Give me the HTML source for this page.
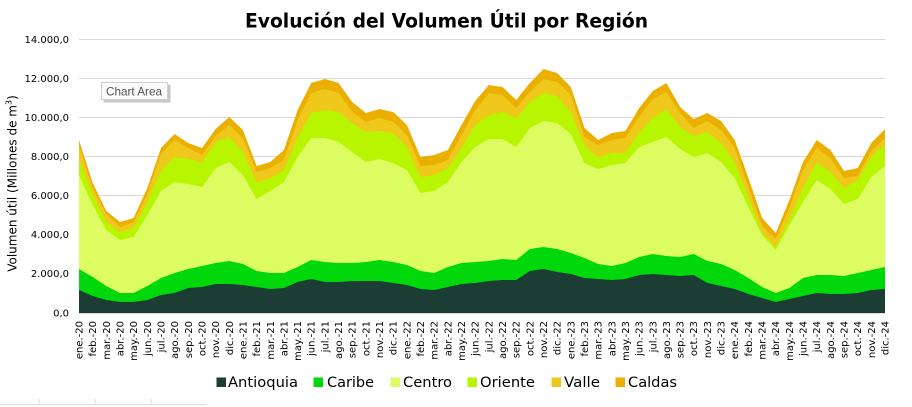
<!DOCTYPE html>
<html>
<head>
<meta charset="utf-8">
<style>
html,body{margin:0;padding:0;background:#fff;}
svg{display:block;}
text{font-family:"DejaVu Sans","Liberation Sans",sans-serif;}
</style>
</head>
<body>
<svg width="912" height="407" viewBox="0 0 912 407" xmlns="http://www.w3.org/2000/svg">
<rect x="0" y="0" width="912" height="407" fill="#fff"/>
<!-- title -->
<text x="245" y="27.5" font-size="19.5" font-weight="bold" fill="#000" textLength="403" lengthAdjust="spacingAndGlyphs">Evolución del Volumen Útil por Región</text>
<!-- gridlines -->
<g stroke="#d9d9d9" stroke-width="1">
<line x1="79" y1="39.5" x2="885" y2="39.5"/>
<line x1="79" y1="78.5" x2="885" y2="78.5"/>
<line x1="79" y1="117.5" x2="885" y2="117.5"/>
<line x1="79" y1="156.5" x2="885" y2="156.5"/>
<line x1="79" y1="195.5" x2="885" y2="195.5"/>
<line x1="79" y1="234.5" x2="885" y2="234.5"/>
<line x1="79" y1="273.5" x2="885" y2="273.5"/>
</g>
<!-- areas -->
<polygon fill="#ebaf00" points="79,140 92.7,183 106.3,211 120,222 133.6,218 147.3,188 161,148 174.6,134 188.3,143 202,148 215.6,129 229.3,117 242.9,130 256.6,166 270.3,162 283.9,150 297.6,110 311.2,83 324.9,79 338.6,83 352.2,102 365.9,113 379.5,109 393.2,112 406.9,125 420.5,157 434.2,155 447.9,150 461.5,125 475.2,101 488.8,85 502.5,87 516.2,100 529.8,83 543.5,69 557.1,73 570.8,87 584.5,128 598.1,140 611.8,133 625.4,131 639.1,108 652.8,91 666.4,83 680.1,107 693.7,119 707.4,113 721.1,121 734.7,140 748.4,178 762.1,218 775.7,233 789.4,200 803,162 816.7,140 830.4,150 844,171 857.7,168 871.3,143 885,129 885,313 79,313"/>
<polygon fill="#f0c81c" points="79,145 92.7,188 106.3,214 120,227 133.6,222 147.3,194 161,154 174.6,140 188.3,148 202,155 215.6,136 229.3,125 242.9,138 256.6,172 270.3,168 283.9,160 297.6,120 311.2,93 324.9,89 338.6,93 352.2,112 365.9,122 379.5,118 393.2,122 406.9,135 420.5,166 434.2,165 447.9,160 461.5,135 475.2,110 488.8,93 502.5,95 516.2,108 529.8,92 543.5,79 557.1,82 570.8,95 584.5,137 598.1,145 611.8,140 625.4,138 639.1,117 652.8,99 666.4,92 680.1,113 693.7,128 707.4,121 721.1,130 734.7,148 748.4,187 762.1,226 775.7,239 789.4,208 803,170 816.7,148 830.4,158 844,178 857.7,176 871.3,151 885,138 885,313 79,313"/>
<polygon fill="#b7f500" points="79,158 92.7,195 106.3,222 120,232 133.6,228 147.3,202 161,170 174.6,157 188.3,159 202,162 215.6,142 229.3,137 242.9,152 256.6,182 270.3,178 283.9,170 297.6,138 311.2,113 324.9,110 338.6,112 352.2,123 365.9,132 379.5,131 393.2,133 406.9,147 420.5,177 434.2,175 447.9,168 461.5,148 475.2,125 488.8,115 502.5,112 516.2,118 529.8,102 543.5,93 557.1,96 570.8,112 584.5,145 598.1,157 611.8,153 625.4,153 639.1,132 652.8,118 666.4,109 680.1,127 693.7,136 707.4,132 721.1,143 734.7,162 748.4,197 762.1,233 775.7,247 789.4,218 803,188 816.7,162 830.4,172 844,188 857.7,180 871.3,156 885,145 885,313 79,313"/>
<polygon fill="#dcfc62" points="79,175 92.7,205 106.3,230 120,240 133.6,237 147.3,215 161,191 174.6,182 188.3,184 202,187 215.6,168 229.3,162 242.9,175 256.6,199 270.3,191 283.9,182 297.6,157 311.2,138 324.9,138 338.6,142 352.2,152 365.9,162 379.5,159 393.2,163 406.9,170 420.5,193 434.2,191 447.9,182 461.5,162 475.2,147 488.8,139 502.5,139 516.2,147 529.8,128 543.5,121 557.1,123 570.8,134 584.5,163 598.1,169 611.8,165 625.4,163 639.1,147 652.8,142 666.4,137 680.1,149 693.7,157 707.4,153 721.1,162 734.7,178 748.4,207 762.1,235 775.7,250 789.4,225 803,202 816.7,180 830.4,189 844,204 857.7,199 871.3,177 885,166 885,313 79,313"/>
<polygon fill="#00d80c" points="79,269 92.7,277 106.3,286 120,293 133.6,293 147.3,286 161,278 174.6,273 188.3,269 202,266 215.6,263 229.3,261 242.9,264 256.6,271 270.3,273 283.9,273 297.6,267 311.2,260 324.9,262 338.6,263 352.2,263 365.9,262 379.5,260 393.2,262 406.9,265 420.5,271 434.2,273 447.9,267 461.5,263 475.2,262 488.8,261 502.5,259 516.2,260 529.8,249 543.5,247 557.1,249 570.8,253 584.5,258 598.1,264 611.8,266 625.4,263 639.1,257 652.8,254 666.4,256 680.1,257 693.7,254 707.4,261 721.1,264 734.7,270 748.4,278 762.1,287 775.7,293 789.4,288 803,278 816.7,275 830.4,275 844,276 857.7,273 871.3,270 885,267 885,313 79,313"/>
<polygon fill="#1b3d33" points="79,290 92.7,296 106.3,300 120,302 133.6,302 147.3,300 161,295 174.6,293 188.3,288 202,287 215.6,284 229.3,284 242.9,285 256.6,287 270.3,289 283.9,288 297.6,282 311.2,279 324.9,282 338.6,282 352.2,281 365.9,281 379.5,281 393.2,283 406.9,285 420.5,289 434.2,290 447.9,287 461.5,284 475.2,283 488.8,281 502.5,280 516.2,280 529.8,271 543.5,269 557.1,272 570.8,274 584.5,278 598.1,279 611.8,280 625.4,279 639.1,275 652.8,274 666.4,275 680.1,276 693.7,275 707.4,283 721.1,286 734.7,289 748.4,294 762.1,298 775.7,302 789.4,299 803,296 816.7,293 830.4,294 844,294 857.7,293 871.3,290 885,289 885,313 79,313"/>
<line x1="79" y1="313.5" x2="885" y2="313.5" stroke="#d9d9d9" stroke-width="1"/>
<!-- y labels -->
<g font-size="10" fill="#000" text-anchor="end">
<text x="69" y="43">14.000,0</text>
<text x="69" y="82">12.000,0</text>
<text x="69" y="121">10.000,0</text>
<text x="69" y="160">8.000,0</text>
<text x="69" y="199">6.000,0</text>
<text x="69" y="238">4.000,0</text>
<text x="69" y="277">2.000,0</text>
<text x="69" y="316.5">0,0</text>
</g>
<!-- y title -->
<text transform="translate(16.5,183.5) rotate(-90)" text-anchor="middle" font-size="12" fill="#000">Volumen útil (Millones de m<tspan font-size="8" dy="-5">3</tspan><tspan dy="5">)</tspan></text>
<!-- x labels -->
<g font-size="10" fill="#000" text-anchor="end">
<text transform="translate(82.5,321) rotate(-90)">ene.-20</text>
<text transform="translate(96.2,321) rotate(-90)">feb.-20</text>
<text transform="translate(109.8,321) rotate(-90)">mar.-20</text>
<text transform="translate(123.5,321) rotate(-90)">abr.-20</text>
<text transform="translate(137.1,321) rotate(-90)">may.-20</text>
<text transform="translate(150.8,321) rotate(-90)">jun.-20</text>
<text transform="translate(164.5,321) rotate(-90)">jul.-20</text>
<text transform="translate(178.1,321) rotate(-90)">ago.-20</text>
<text transform="translate(191.8,321) rotate(-90)">sep.-20</text>
<text transform="translate(205.5,321) rotate(-90)">oct.-20</text>
<text transform="translate(219.1,321) rotate(-90)">nov.-20</text>
<text transform="translate(232.8,321) rotate(-90)">dic.-20</text>
<text transform="translate(246.4,321) rotate(-90)">ene.-21</text>
<text transform="translate(260.1,321) rotate(-90)">feb.-21</text>
<text transform="translate(273.8,321) rotate(-90)">mar.-21</text>
<text transform="translate(287.4,321) rotate(-90)">abr.-21</text>
<text transform="translate(301.1,321) rotate(-90)">may.-21</text>
<text transform="translate(314.7,321) rotate(-90)">jun.-21</text>
<text transform="translate(328.4,321) rotate(-90)">jul.-21</text>
<text transform="translate(342.1,321) rotate(-90)">ago.-21</text>
<text transform="translate(355.7,321) rotate(-90)">sep.-21</text>
<text transform="translate(369.4,321) rotate(-90)">oct.-21</text>
<text transform="translate(383,321) rotate(-90)">nov.-21</text>
<text transform="translate(396.7,321) rotate(-90)">dic.-21</text>
<text transform="translate(410.4,321) rotate(-90)">ene.-22</text>
<text transform="translate(424,321) rotate(-90)">feb.-22</text>
<text transform="translate(437.7,321) rotate(-90)">mar.-22</text>
<text transform="translate(451.4,321) rotate(-90)">abr.-22</text>
<text transform="translate(465,321) rotate(-90)">may.-22</text>
<text transform="translate(478.7,321) rotate(-90)">jun.-22</text>
<text transform="translate(492.3,321) rotate(-90)">jul.-22</text>
<text transform="translate(506,321) rotate(-90)">ago.-22</text>
<text transform="translate(519.7,321) rotate(-90)">sep.-22</text>
<text transform="translate(533.3,321) rotate(-90)">oct.-22</text>
<text transform="translate(547,321) rotate(-90)">nov.-22</text>
<text transform="translate(560.6,321) rotate(-90)">dic.-22</text>
<text transform="translate(574.3,321) rotate(-90)">ene.-23</text>
<text transform="translate(588,321) rotate(-90)">feb.-23</text>
<text transform="translate(601.6,321) rotate(-90)">mar.-23</text>
<text transform="translate(615.3,321) rotate(-90)">abr.-23</text>
<text transform="translate(628.9,321) rotate(-90)">may.-23</text>
<text transform="translate(642.6,321) rotate(-90)">jun.-23</text>
<text transform="translate(656.3,321) rotate(-90)">jul.-23</text>
<text transform="translate(669.9,321) rotate(-90)">ago.-23</text>
<text transform="translate(683.6,321) rotate(-90)">sep.-23</text>
<text transform="translate(697.2,321) rotate(-90)">oct.-23</text>
<text transform="translate(710.9,321) rotate(-90)">nov.-23</text>
<text transform="translate(724.6,321) rotate(-90)">dic.-23</text>
<text transform="translate(738.2,321) rotate(-90)">ene.-24</text>
<text transform="translate(751.9,321) rotate(-90)">feb.-24</text>
<text transform="translate(765.6,321) rotate(-90)">mar.-24</text>
<text transform="translate(779.2,321) rotate(-90)">abr.-24</text>
<text transform="translate(792.9,321) rotate(-90)">may.-24</text>
<text transform="translate(806.5,321) rotate(-90)">jun.-24</text>
<text transform="translate(820.2,321) rotate(-90)">jul.-24</text>
<text transform="translate(833.9,321) rotate(-90)">ago.-24</text>
<text transform="translate(847.5,321) rotate(-90)">sep.-24</text>
<text transform="translate(861.2,321) rotate(-90)">oct.-24</text>
<text transform="translate(874.8,321) rotate(-90)">nov.-24</text>
<text transform="translate(888.5,321) rotate(-90)">dic.-24</text>
</g>
<!-- legend -->
<g font-size="14.5" fill="#000">
<rect x="216.5" y="377.5" width="9.5" height="9.5" fill="#1b3d33"/>
<text x="228" y="387" textLength="70" lengthAdjust="spacingAndGlyphs">Antioquia</text>
<rect x="313.5" y="377.5" width="9.5" height="9.5" fill="#00d80c"/>
<text x="327" y="387" textLength="47" lengthAdjust="spacingAndGlyphs">Caribe</text>
<rect x="390.5" y="377.5" width="9.5" height="9.5" fill="#dcfc62"/>
<text x="403" y="387" textLength="49" lengthAdjust="spacingAndGlyphs">Centro</text>
<rect x="467.5" y="377.5" width="9.5" height="9.5" fill="#b7f500"/>
<text x="480" y="387" textLength="55" lengthAdjust="spacingAndGlyphs">Oriente</text>
<rect x="551.5" y="377.5" width="9.5" height="9.5" fill="#f0c81c"/>
<text x="564" y="387" textLength="36" lengthAdjust="spacingAndGlyphs">Valle</text>
<rect x="615.5" y="377.5" width="9.5" height="9.5" fill="#ebaf00"/>
<text x="628" y="387" textLength="49" lengthAdjust="spacingAndGlyphs">Caldas</text>
</g>
<!-- Chart Area tooltip -->
<rect x="103.5" y="84.5" width="67" height="18" fill="#a0a0a0" opacity="0.6"/>
<rect x="101.5" y="82.5" width="66" height="17" fill="#fbfbfb" stroke="#cfcfcf" stroke-width="1"/>
<text x="106" y="95.5" font-size="12" fill="#555" style="font-family:'Liberation Sans',sans-serif" textLength="56" lengthAdjust="spacingAndGlyphs">Chart Area</text>
<!-- bottom decoration -->
<g stroke="#dddddd" stroke-width="1">
<line x1="0" y1="404.5" x2="206" y2="404.5"/>
<line x1="39" y1="399" x2="39" y2="404"/>
<line x1="95" y1="399" x2="95" y2="404"/>
<line x1="151" y1="399" x2="151" y2="404"/>
</g>
</svg>
</body>
</html>
